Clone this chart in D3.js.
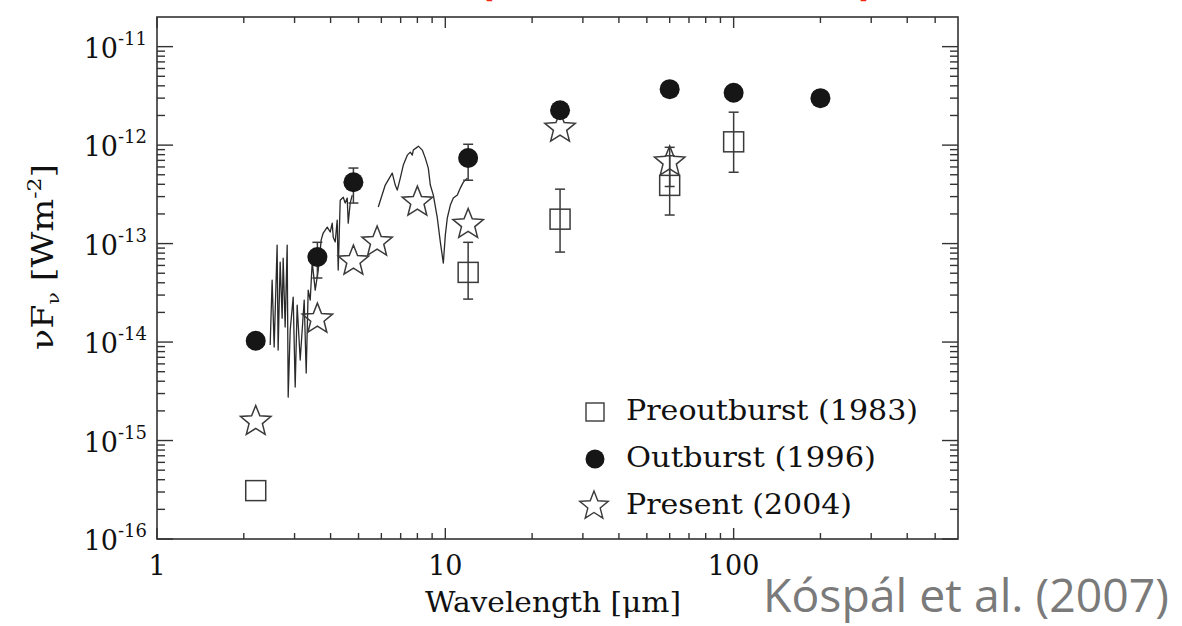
<!DOCTYPE html>
<html><head><meta charset="utf-8">
<script src="https://cdn.jsdelivr.net/npm/d3@7"></script>
<style>body{margin:0;background:#fff}svg{display:block}</style>
</head><body>
<svg id="c" width="1182" height="626"></svg>
<script>
// ---------- data (wavelength in micron, nuF_nu in W m^-2) ----------
const outburstWave = [2.2, 3.6, 4.8, 12, 25, 60, 100, 200];
const outburstFlux = [1.03e-14, 7.3e-14, 4.2e-13, 7.4e-13, 2.26e-12, 3.7e-12, 3.4e-12, 3.0e-12];
const outburstErrLo = [null, 4.47e-14, 2.58e-13, 4.4e-13, null, null, null, null];
const outburstErrHi = [null, 1.03e-13, 5.85e-13, 1.02e-12, null, null, null, null];

const preWave = [2.2, 12, 25, 60, 100];
const preFlux = [3.1e-16, 5.1e-14, 1.77e-13, 3.9e-13, 1.08e-12];
const preErrLo = [null, 2.73e-14, 8.2e-14, 1.95e-13, 5.3e-13];
const preErrHi = [null, 1.03e-13, 3.57e-13, 7.8e-13, 2.16e-12];

const presentWave = [2.2, 3.6, 4.8, 5.8, 8.0, 12, 25, 60];
const presentFlux = [1.6e-15, 1.75e-14, 6.8e-14, 1.06e-13, 2.7e-13, 1.6e-13, 1.52e-12, 6.9e-13];
const presentErrLo = [null, null, null, null, null, null, null, 3.8e-13];
const presentErrHi = [null, null, null, null, null, null, null, 9.5e-13];

// spectrum, segment 1 (near-IR, noisy) and segment 2 (mid-IR)
const spec1Wave = [2.469, 2.508, 2.549, 2.610, 2.631, 2.674, 2.717, 2.739, 2.783, 2.828, 2.851, 2.897,
  2.967, 3.015, 3.063, 3.138, 3.240, 3.292, 3.345, 3.400, 3.454, 3.538, 3.624, 3.711, 3.771, 3.894,
  3.988, 4.053, 4.085, 4.151, 4.217, 4.251, 4.320, 4.425, 4.496, 4.568, 4.605, 4.679, 4.755];
const spec1Flux = [9.33e-15, 4.26e-14, 8.9e-15, 9.66e-14, 8.3e-15, 6.49e-14, 1.75e-14, 7.12e-14, 1.42e-14, 9.66e-14, 2.76e-15, 1.32e-14,
  2.86e-14, 3.49e-15, 2.37e-14, 6.57e-15, 2.67e-14, 4.84e-15, 3.37e-14, 2.67e-14, 6.49e-14, 3.37e-14, 5.38e-14, 1.09e-13, 1.28e-13, 1.47e-13,
  1.31e-13, 1.61e-13, 1.16e-13, 1.04e-13, 1.73e-13, 5.38e-14, 2.76e-13, 2.96e-13, 2.58e-13, 2.9e-13, 1.61e-13, 2.58e-13, 3.11e-13];
const spec2Wave = [5.854, 6.19, 6.546, 6.705, 6.813, 6.979, 7.149, 7.382, 7.56, 7.682, 7.744, 7.996, 8.061, 8.32,
  8.522, 8.73, 8.871, 9.086, 9.381, 9.608, 9.842, 10.0, 10.16, 10.41, 10.66, 11.01, 11.27, 11.55, 11.92];
const spec2Flux = [2.35e-13, 3.93e-13, 5.2e-13, 3.93e-13, 3.49e-13, 4.62e-13, 6.27e-13, 7.91e-13, 8.49e-13, 7.91e-13, 8.9e-13, 9.54e-13, 9.77e-13, 8.9e-13,
  7.38e-13, 5.84e-13, 3.93e-13, 3.11e-13, 1.82e-13, 1.04e-13, 6.34e-14, 1.22e-13, 1.82e-13, 2.46e-13, 2.9e-13, 3.11e-13, 3.66e-13, 4.21e-13, 4.62e-13];

const xTickLabels = ["1", "10", "100"];
const xTickValues = [1, 10, 100];
const yTickValues = [1e-16, 1e-15, 1e-14, 1e-13, 1e-12, 1e-11];
const yTickExponents = ["-16", "-15", "-14", "-13", "-12", "-11"];
const legendLabels = ["Preoutburst (1983)", "Outburst (1996)", "Present (2004)"];

// ---------- drawing ----------
const svg = d3.select("#c");
const x = d3.scaleLog().domain([1, 600]).range([157, 958]);
const y = d3.scaleLog().domain([1e-16, 2e-11]).range([539, 17]);
const ink = "#333";
const serif = "'DejaVu Serif', serif";

// cut-off red title remnants (title lies above the visible area in the reference)
svg.append("text").attr("x", 479).attr("y", -6).attr("font-family", "'Open Sans', sans-serif")
  .attr("font-weight", "bold").attr("font-size", 44).attr("fill", "#f5260f").text("(");
svg.append("text").attr("x", 859).attr("y", -6).attr("font-family", "'Open Sans', sans-serif")
  .attr("font-weight", "bold").attr("font-size", 44).attr("fill", "#f5260f").text(")");

// frame
svg.append("rect").attr("x", x.range()[0]).attr("y", y.range()[1])
  .attr("width", x.range()[1] - x.range()[0]).attr("height", y.range()[0] - y.range()[1])
  .attr("fill", "none").attr("stroke", ink).attr("stroke-width", 1.6);

// ticks
const gT = svg.append("g").attr("stroke", ink).attr("stroke-width", 1.4);
const xMinor = [];
for (let d = 1; d <= 100; d *= 10) for (let m = 2; m <= 9; m++) { const v = m * d; if (v < 600) xMinor.push(v); }
const yMinor = [];
for (let e = -16; e <= -11; e++) for (let m = 2; m <= 9; m++) { const v = m * Math.pow(10, e); if (v < 2e-11) yMinor.push(v); }
[[xTickValues, 11], [xMinor, 6]].forEach(([vals, len]) => {
  vals.forEach(v => {
    const px = x(v);
    gT.append("line").attr("x1", px).attr("x2", px).attr("y1", y.range()[0]).attr("y2", y.range()[0] - len);
    gT.append("line").attr("x1", px).attr("x2", px).attr("y1", y.range()[1]).attr("y2", y.range()[1] + len);
  });
});
[[yTickValues, 16], [yMinor, 8]].forEach(([vals, len]) => {
  vals.forEach(v => {
    const py = y(v);
    gT.append("line").attr("y1", py).attr("y2", py).attr("x1", x.range()[0]).attr("x2", x.range()[0] + len);
    gT.append("line").attr("y1", py).attr("y2", py).attr("x1", x.range()[1]).attr("x2", x.range()[1] - len);
  });
});

// tick labels
xTickValues.forEach((v, i) => {
  svg.append("text").attr("x", x(v)).attr("y", 575).attr("text-anchor", "middle")
    .attr("font-family", serif).attr("font-size", 27).attr("fill", "#111").text(xTickLabels[i]);
});
yTickValues.forEach((v, i) => {
  const t = svg.append("text").attr("x", 147).attr("y", y(v) + 11).attr("text-anchor", "end")
    .attr("font-family", serif).attr("font-size", 27).attr("fill", "#111");
  t.append("tspan").text("10");
  t.append("tspan").attr("dy", -13).attr("font-size", 18).text(yTickExponents[i]);
});

// axis titles
const yt = svg.append("text").attr("transform", "translate(53,257) rotate(-90)").attr("text-anchor", "middle")
  .attr("font-family", serif).attr("font-size", 29).attr("fill", "#111")
  .attr("textLength", 186).attr("lengthAdjust", "spacingAndGlyphs");
yt.append("tspan").text("νF");
yt.append("tspan").attr("font-size", 17).attr("dy", 6).text("ν");
yt.append("tspan").attr("dy", -6).text(" [Wm");
yt.append("tspan").attr("font-size", 18).attr("dy", -12).text("-2");
yt.append("tspan").attr("dy", 12).text("]");

svg.append("text").attr("x", 553).attr("y", 612).attr("text-anchor", "middle")
  .attr("font-family", serif).attr("font-size", 28).attr("fill", "#111")
  .attr("textLength", 256).attr("lengthAdjust", "spacingAndGlyphs").text("Wavelength [μm]");

svg.append("text").attr("x", 763).attr("y", 612).attr("font-family", "'Open Sans', sans-serif")
  .attr("font-size", 45).attr("fill", "#7a7a7a")
  .attr("textLength", 406).attr("lengthAdjust", "spacingAndGlyphs").text("Kóspál et al. (2007)");

// spectrum
const line = d3.line().x(d => x(d[0])).y(d => y(d[1]));
[[spec1Wave, spec1Flux], [spec2Wave, spec2Flux]].forEach(([w, f]) => {
  svg.append("path").attr("d", line(w.map((v, i) => [v, f[i]])))
    .attr("fill", "none").attr("stroke", "#2a2a2a").attr("stroke-width", 1.3).attr("stroke-linejoin", "round");
});

// error bars
const gE = svg.append("g").attr("stroke", "#3a3a3a").attr("stroke-width", 1.5);
function errBars(w, lo, hi) {
  w.forEach((v, i) => {
    if (lo[i] == null) return;
    const px = x(v);
    gE.append("line").attr("x1", px).attr("x2", px).attr("y1", y(lo[i])).attr("y2", y(hi[i]));
    gE.append("line").attr("x1", px - 5).attr("x2", px + 5).attr("y1", y(lo[i])).attr("y2", y(lo[i]));
    gE.append("line").attr("x1", px - 5).attr("x2", px + 5).attr("y1", y(hi[i])).attr("y2", y(hi[i]));
  });
}
errBars(preWave, preErrLo, preErrHi);
errBars(presentWave, presentErrLo, presentErrHi);
errBars(outburstWave, outburstErrLo, outburstErrHi);

function starPath(cx, cy, R, r) {
  const pts = [];
  for (let k = 0; k < 10; k++) {
    const a = -Math.PI / 2 + k * Math.PI / 5;
    const rr = k % 2 === 0 ? R : r;
    pts.push([cx + rr * Math.cos(a), cy + rr * Math.sin(a)]);
  }
  return "M" + pts.map(p => p.join(",")).join("L") + "Z";
}

// markers
preWave.forEach((v, i) => {
  svg.append("rect").attr("x", x(v) - 10).attr("y", y(preFlux[i]) - 10).attr("width", 20).attr("height", 20)
    .attr("fill", "none").attr("stroke", "#3a3a3a").attr("stroke-width", 1.5);
});
presentWave.forEach((v, i) => {
  svg.append("path").attr("d", starPath(x(v), y(presentFlux[i]) + 1, 16, 7))
    .attr("fill", "none").attr("stroke", "#3a3a3a").attr("stroke-width", 1.5).attr("stroke-linejoin", "miter");
});
outburstWave.forEach((v, i) => {
  svg.append("circle").attr("cx", x(v)).attr("cy", y(outburstFlux[i])).attr("r", 10).attr("fill", "#161616");
});

// legend
const lg = svg.append("g");
lg.append("rect").attr("x", 586).attr("y", 403).attr("width", 18).attr("height", 18)
  .attr("fill", "none").attr("stroke", "#3a3a3a").attr("stroke-width", 1.4);
lg.append("circle").attr("cx", 595).attr("cy", 459).attr("r", 9.5).attr("fill", "#161616");
lg.append("path").attr("d", starPath(594, 506, 15, 6.5)).attr("fill", "none").attr("stroke", "#3a3a3a").attr("stroke-width", 1.4);
const legendWidths = [292, 250, 226];
[420, 467, 514].forEach((by, i) => {
  lg.append("text").attr("x", 626).attr("y", by).attr("font-family", serif).attr("font-size", 28)
    .attr("fill", "#111").attr("textLength", legendWidths[i]).attr("lengthAdjust", "spacingAndGlyphs")
    .text(legendLabels[i]);
});
</script>
</body></html>
